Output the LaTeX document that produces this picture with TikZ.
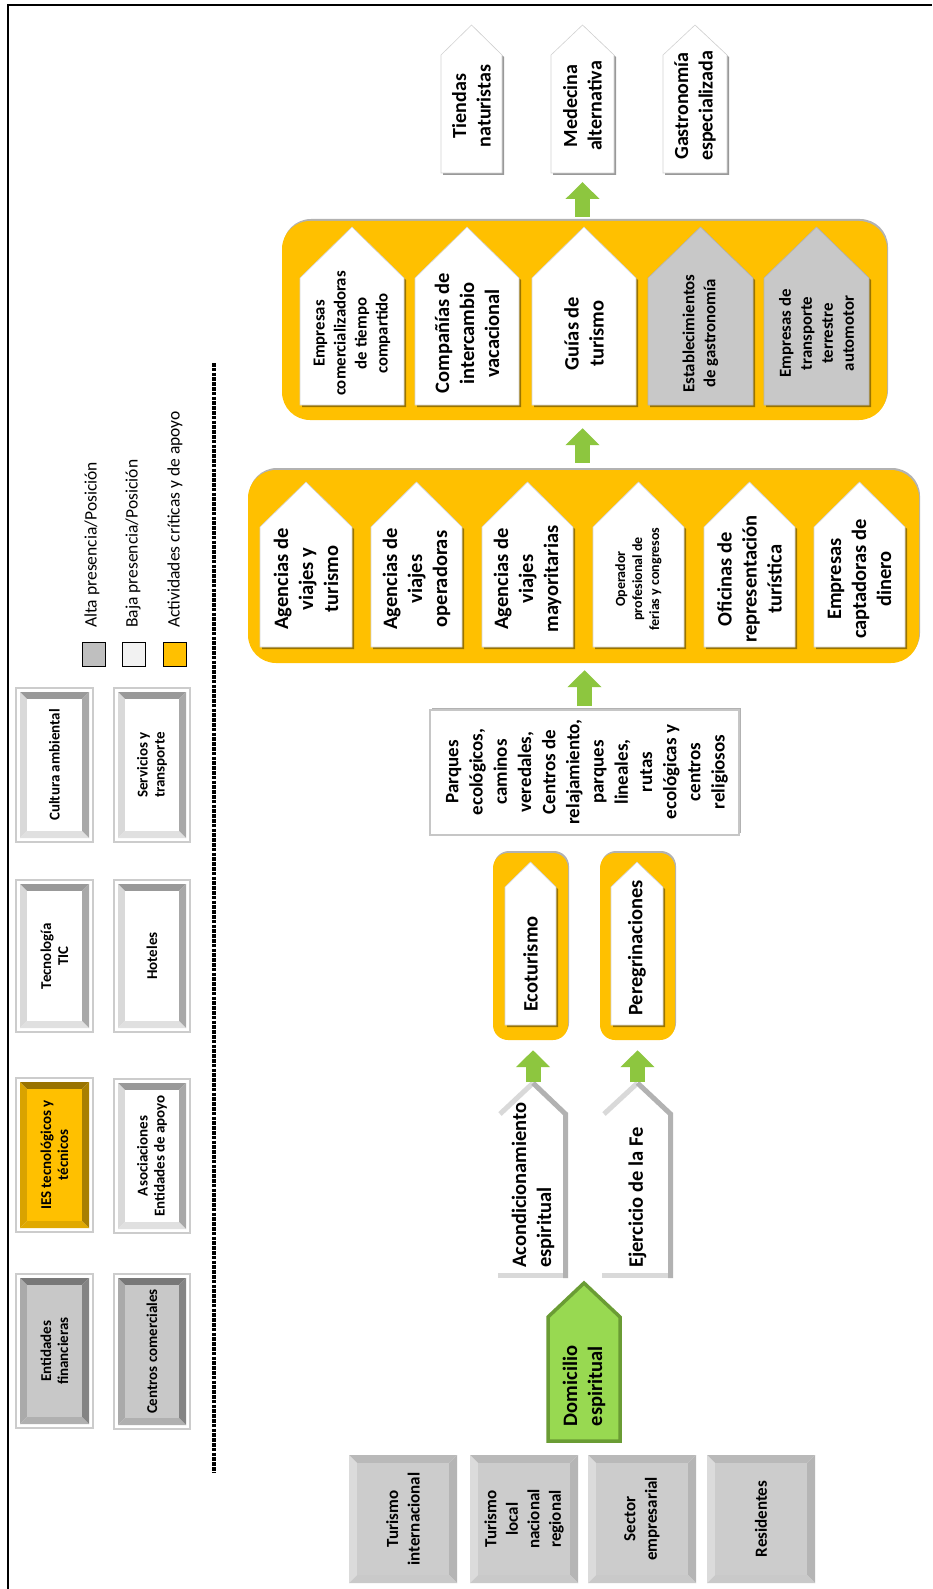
\documentclass[tikz,border=0pt]{standalone}
\usepackage{fontspec}
\setmainfont{Carlito}
\usetikzlibrary{arrows.meta,shadows,calc}
\definecolor{gold}{HTML}{FFC000}
\definecolor{pgray}{HTML}{C8C8C8}
\definecolor{agreen}{HTML}{8DC63F}
\definecolor{dgreen}{HTML}{6A9C34}
\definecolor{lgreen}{HTML}{98D951}
\definecolor{bface}{HTML}{CCCCCC}
\definecolor{legg}{HTML}{BFBFBF}
\definecolor{legw}{HTML}{F2F2F2}
\tikzset{
 pw/.style={fill=white, draw=gray!35, line width=0.6pt, drop shadow={shadow xshift=2pt,shadow yshift=-2pt,opacity=0.4,fill=black}},
 pg/.style={fill=pgray, draw=gray!60, line width=0.6pt, drop shadow={shadow xshift=2pt,shadow yshift=-2pt,opacity=0.4,fill=black}},
 pgreen/.style={fill=lgreen, draw=dgreen, line width=3.5pt, line join=miter},
 tb/.style={font=\fontsize{20.5}{25}\selectfont\bfseries, align=center, inner sep=0pt},
 tt/.style={font=\fontsize{20}{24.5}\selectfont\bfseries, align=center, inner sep=0pt},
 tpq/.style={font=\fontsize{19}{24.2}\selectfont\bfseries, align=center, inner sep=0pt},
 tm/.style={font=\fontsize{16.8}{21}\selectfont\bfseries, align=center, inner sep=0pt},
 ts/.style={font=\fontsize{14}{17}\selectfont\bfseries, align=center, inner sep=0pt},
 tl/.style={font=\fontsize{15}{17}\selectfont\bfseries, align=center, inner sep=0pt},
 tbot/.style={font=\fontsize{17}{21.5}\selectfont\bfseries, align=center, inner sep=0pt},
 tleg/.style={font=\fontsize{17.5}{20}\selectfont, inner sep=0pt},
 group/.style={fill=gold, rounded corners=28pt, inner sep=0pt, drop shadow={shadow xshift=1pt,shadow yshift=2pt,opacity=0.3,fill=black}},
 sgroup/.style={group, rounded corners=15pt},
 garrow/.style={draw=agreen, line width=15pt, -{Triangle[width=33pt,length=17pt]}},
 legsq/.style={draw=black, line width=1pt, minimum width=23pt, minimum height=24pt, inner sep=0pt},
 dashline/.style={line width=3.2pt, draw=black, dash pattern=on 3.5pt off 1.3pt},
 parq/.style={fill=white, draw=gray!45, line width=2pt, minimum width=309pt, minimum height=125pt, inner sep=0pt, drop shadow={shadow xshift=2pt,shadow yshift=2pt,opacity=0.3,fill=black}},
}
% pentagon: name, shape style, text style, x1, x2, ytip, yshoulder, ybottom, text
\newcommand{\pent}[9]{%
  \path[#2] (#4,#8) -- (#4,#7) -- ({(#4+#5)/2},#6) -- (#5,#7) -- (#5,#8) -- cycle;
  \coordinate (#1-tip) at ({(#4+#5)/2},#6);
  \coordinate (#1-bot) at ({(#4+#5)/2},#8);
  \node[#3, rotate=90] (#1) at ({(#4+#5)/2},{(#7+#8)/2-8}) {#9};
}
% open outline pentagon: name, x1, x2, ytip, yshoulder, ybottom, text
\newcommand{\outl}[7]{%
  \draw[line width=5pt, draw=gray!30] ({#2+2},{#5+1}) -- ({(#2+#3)/2},{#4+3});
  \draw[line width=5pt, draw=gray!30] (#2,{#6-2.5}) -- ({#3-3},{#6-2.5});
  \draw[line width=5pt, draw=gray!60, line join=miter] ({(#2+#3)/2},{#4+3}) -- ({#3-2.5},{#5+1}) -- ({#3-2.5},#6);
  \coordinate (#1-tip) at ({(#2+#3)/2},#4);
  \node[tb, align=left, rotate=90, anchor=west] (#1) at ({(#2+#3)/2},{#6-10}) {#7};
}
% bevelled box with outer frame: name, x1, y1, x2, y2, face, text
\newcommand{\lbox}[7]{%
  \fill[white] (#2,#3) rectangle (#4,#5);
  \draw[gray!40, line width=1.2pt] (#2,#3) rectangle (#4,#5);
  \fill[#6!60!black] ({#2+4},{#3+4}) -- ({#4-4},{#3+4}) -- ({#4-11},{#3+11}) -- ({#2+11},{#3+11}) -- cycle;
  \fill[#6!66!black] ({#4-4},{#3+4}) -- ({#4-4},{#5-4}) -- ({#4-11},{#5-11}) -- ({#4-11},{#3+11}) -- cycle;
  \fill[#6!85!black] ({#2+4},{#3+4}) -- ({#2+11},{#3+11}) -- ({#2+11},{#5-11}) -- ({#2+4},{#5-4}) -- cycle;
  \fill[#6!88!black] ({#2+4},{#5-4}) -- ({#2+11},{#5-11}) -- ({#4-11},{#5-11}) -- ({#4-4},{#5-4}) -- cycle;
  \fill[#6] ({#2+11},{#3+11}) rectangle ({#4-11},{#5-11});
  \node[tl, rotate=90] (#1) at ({(#2+#4)/2},{(#3+#5)/2}) {#7};
}
% bevelled grey box: name, x1, y1, x2, y2, text
\newcommand{\bbox}[6]{%
  \fill[gray!55] (#2,#3) -- (#4,#3) -- ({#4-8},{#3+8}) -- ({#2+8},{#3+8}) -- cycle;
  \fill[gray!58] (#4,#3) -- (#4,#5) -- ({#4-8},{#5-8}) -- ({#4-8},{#3+8}) -- cycle;
  \fill[gray!28] (#2,#3) -- ({#2+8},{#3+8}) -- ({#2+8},{#5-8}) -- (#2,#5) -- cycle;
  \fill[gray!42] (#2,#5) -- ({#2+8},{#5-8}) -- ({#4-8},{#5-8}) -- (#4,#5) -- cycle;
  \fill[bface] ({#2+8},{#3+8}) rectangle ({#4-8},{#5-8});
  \node[tbot, rotate=90] (#1) at ({(#2+#4)/2},{(#3+#5)/2}) {#6};
}
\begin{document}
\begin{tikzpicture}[x=1pt, y=-1pt]
\useasboundingbox (0,0) rectangle (932,1589);
\fill[white] (0,0) rectangle (932,1589);
\draw[line width=2pt] (8,1589) -- (8,5) -- (932,5);

% ---- outputs
\pent{tiendas}{pw}{tt}{441}{502}{25}{55}{173}{Tiendas\\naturistas}
\pent{medecina}{pw}{tt}{551}{614}{25}{55}{173}{Medecina\\alternativa}
\pent{gastro}{pw}{tt}{663}{727}{25}{55}{173}{Gastronomía\\especializada}

% ---- top group
\node[group, minimum width=605pt, minimum height=199pt] (g3) at (584.5,320.5) {};
\pent{empcom}{pw}{tm}{300}{404}{227}{278}{405}{Empresas\\comercializadoras\\de tiempo\\compartido}
\pent{compan}{pw}{tb}{415}{519}{227}{278}{405}{Compañías de\\intercambio\\vacacional}
\pent{guias}{pw}{tb}{532}{636}{227}{278}{405}{Guías de\\turismo}
\pent{establ}{pg}{tm}{648}{753}{227}{278}{405}{Establecimientos\\de gastronomía}
\pent{emptra}{pg}{tm}{764}{869}{227}{278}{405}{Empresas de\\transporte\\terrestre\\automotor}

% ---- middle group
\node[group, minimum width=671pt, minimum height=193pt] (g2) at (583.5,566.5) {};
\pent{ag1}{pw}{tb}{260}{352}{482}{527}{647}{Agencias de\\viajes y\\turismo}
\pent{ag2}{pw}{tb}{371}{462}{482}{527}{647}{Agencias de\\viajes\\operadoras}
\pent{ag3}{pw}{tb}{482}{573}{482}{527}{647}{Agencias de\\viajes\\mayoritarias}
\pent{oper}{pw}{ts}{593}{684}{482}{527}{647}{Operador\\profesional de\\ferias y congresos}
\pent{ofic}{pw}{tb}{704}{795}{482}{527}{647}{Oficinas de\\representación\\turística}
\pent{empcap}{pw}{tb}{814}{905}{482}{527}{647}{Empresas\\captadoras de\\dinero}

% ---- parques
\node[parq] (parques) at (584.5,772.5) {};
\node[tpq, rotate=90] (parqtxt) at (587,772) {Parques\\ecológicos,\\caminos\\veredales,\\Centros de\\relajamiento,\\parques\\lineales,\\rutas\\ecológicas y\\centros\\religiosos};

% ---- small groups
\node[sgroup, minimum width=75pt, minimum height=187pt] (ecog) at (530.5,946.5) {};
\node[sgroup, minimum width=75pt, minimum height=187pt] (pereg) at (637.5,946.5) {};
\pent{eco}{pw}{tb, yshift=-16pt}{505}{556}{862}{887}{1025}{Ecoturismo}
\pent{peregr}{pw}{tb}{611}{663}{862}{887}{1025}{Peregrinaciones}

% ---- outline shapes
\outl{acond}{498}{568}{1080}{1113}{1278}{Acondicionamiento\\espiritual}
\outl{ejerc}{602}{673}{1080}{1113}{1278}{Ejercicio de la Fe}

% ---- domicilio
\pent{domic}{pgreen}{tb, align=left, yshift=-15pt}{548}{620}{1283}{1317}{1441}{Domicilio\\espiritual}

% ---- bottom boxes
\bbox{tint}{349}{1455}{457}{1583}{Turismo\\internacional}
\bbox{tloc}{470}{1455}{578}{1583}{Turismo\\local\\nacional\\regional}
\bbox{sect}{588}{1455}{696}{1583}{Sector\\empresarial}
\bbox{resid}{707}{1455}{815}{1583}{Residentes}

% ---- left boxes
\lbox{cult}{16}{688}{93}{842}{white}{Cultura ambiental}
\lbox{serv}{114}{688}{190}{842}{white}{Servicios y\\transporte}
\lbox{tecn}{16}{880}{93}{1032}{white}{Tecnología\\TIC}
\lbox{hote}{114}{880}{190}{1032}{white}{Hoteles}
\lbox{ies}{16}{1078}{93}{1232}{gold}{IES tecnológicos y\\técnicos}
\lbox{asoc}{114}{1079}{190}{1233}{white}{Asociaciones\\Entidades de apoyo}
\lbox{entf}{16}{1274}{93}{1428}{pgray}{Entidades\\financieras}
\lbox{cent}{114}{1274}{190}{1429}{pgray}{Centros comerciales}

% ---- legend
\node[legsq, fill=legg] (leg1) at (93.5,654) {};
\node[legsq, fill=legw] (leg2) at (134,654) {};
\node[legsq, fill=gold] (leg3) at (174.5,654) {};
\node[tleg, rotate=90, anchor=west] (legt1) at (92,628) {Alta presencia/Posición};
\node[tleg, rotate=90, anchor=west] (legt2) at (133,628) {Baja presencia/Posición};
\node[tleg, rotate=90, anchor=west] (legt3) at (175,628) {Actividades críticas y de apoyo};

% ---- separator
\coordinate (d1) at (214,363);
\coordinate (d2) at (214,1473);
\draw[dashline] (d1) -- (d2);

% ---- connectors
\draw[garrow, shorten <=4pt, shorten >=9pt] (medecina-bot |- g3.north) -- (medecina-bot);
\draw[garrow, shorten <=7pt, shorten >=8pt] (medecina-bot |- g2.north) -- (medecina-bot |- g3.south);
\draw[garrow, shorten <=3pt, shorten >=7pt] (parques.north) -- (parques.north |- g2.south);
\draw[garrow, shorten <=-2pt, shorten >=10pt] (acond-tip) -- (acond-tip |- ecog.south);
\draw[garrow, shorten <=-2pt, shorten >=10pt] (ejerc-tip) -- (ejerc-tip |- pereg.south);
\end{tikzpicture}
\end{document}
